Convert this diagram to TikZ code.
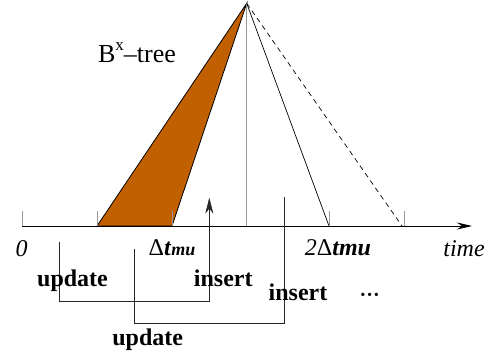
\documentclass[tikz,border=0pt]{standalone}
\usepackage{fontspec}
\setmainfont{Liberation Serif}
\usetikzlibrary{
    arrows.meta,
    positioning,
    calc
}
\definecolor{treeorange}{RGB}{192,96,0}
\tikzstyle{axis} = [
    -{Stealth[length=15pt,width=7pt]},
    line width=0.9pt
]
\tikzstyle{tick} = [
    draw=gray!80,
    line width=0.8pt
]
\tikzstyle{opline} = [
    draw=black!85,
    line width=0.6pt
]
\tikzstyle{oplabel} = [
    anchor=base,
    inner sep=0pt,
    font=\fontsize{24}{28}\selectfont\bfseries
]
\tikzstyle{axislabel} = [
    anchor=base,
    inner sep=0pt,
    font=\fontsize{24}{28}\selectfont\itshape
]

\begin{document}
\begin{tikzpicture}[x=1pt, y=-1pt]
    \useasboundingbox (0,0) rectangle (496,360);
    % time axis and its marks
    \coordinate (t0) at (22,226);
    \coordinate (t1) at (97,226);
    \coordinate (t2) at (172,226);
    \coordinate (t3) at (246.7,226);
    \coordinate (t4) at (329,226);
    \coordinate (t5) at (404,226);
    \coordinate (tend) at (472,226);
    \coordinate (apex) at (246.7,3.3);
    \coordinate (dashend) at (402,226);
    % tree
    \filldraw[fill=treeorange, draw=black, line width=0.8pt] (apex) -- (t1) -- (t2) -- cycle;
    \draw[tick] (apex) -- (t3);
    \draw[line width=0.7pt] (apex) -- (t4);
    \draw[line width=0.7pt, dashed, dash pattern=on 5pt off 4pt] (apex) -- (dashend);
    \draw[axis] (t0) -- (tend);
    \draw[tick] (t0) -- ++(0,-15);
    \draw[tick] (t1) -- ++(0,-15);
    \draw[tick] (t2) -- ++(0,-15);
    \draw[tick] (t4) -- ++(0,-15);
    \draw[tick] (t5) -- ++(0,-15);
    \node[anchor=base, inner sep=0pt, font=\fontsize{26}{30}\selectfont] (tree) at (137,62) {B\raisebox{0.45em}{\fontsize{17}{20}\selectfont x}--tree};
    % axis labels
    \node[axislabel] (zero) at (21.7,256) {0};
    \node[axislabel, font=\fontsize{24}{28}\selectfont] (dt) at (172,255) {Δ\textbf{\textit{t}}{\fontsize{18}{20}\selectfont\textbf{\textit{mu}}}};
    \node[axislabel] (dttwo) at (338,255) {2\upshape Δ\textbf{\textit{tmu}}};
    \node[axislabel] (time) at (464,256) {time};
    % operations
    \coordinate (upa) at (59.3,241.7);
    \coordinate (upb) at (59.3,301);
    \coordinate (ina) at (209.3,301);
    \coordinate (inb) at (209.3,197.7);
    \draw[opline, -{Stealth[length=16pt,width=8pt]}] (upa) -- (upb) -- (ina) -- (inb);
    \coordinate (upc) at (134.3,249.3);
    \coordinate (upd) at (134.3,323.3);
    \coordinate (inc) at (284.3,323.3);
    \coordinate (ind) at (284.3,196.7);
    \draw[opline] (upc) -- (upd) -- (inc) -- (ind);
    \node[oplabel] (update1) at (72.5,286) {update};
    \node[oplabel] (insert1) at (223.3,286) {insert};
    \node[oplabel] (insert2) at (298,300.7) {insert};
    \node[oplabel, font=\fontsize{20}{24}\selectfont\bfseries] (dots) at (369.7,301) {···};
    \node[oplabel] (update2) at (147.7,345.7) {update};
\end{tikzpicture}
\end{document}
